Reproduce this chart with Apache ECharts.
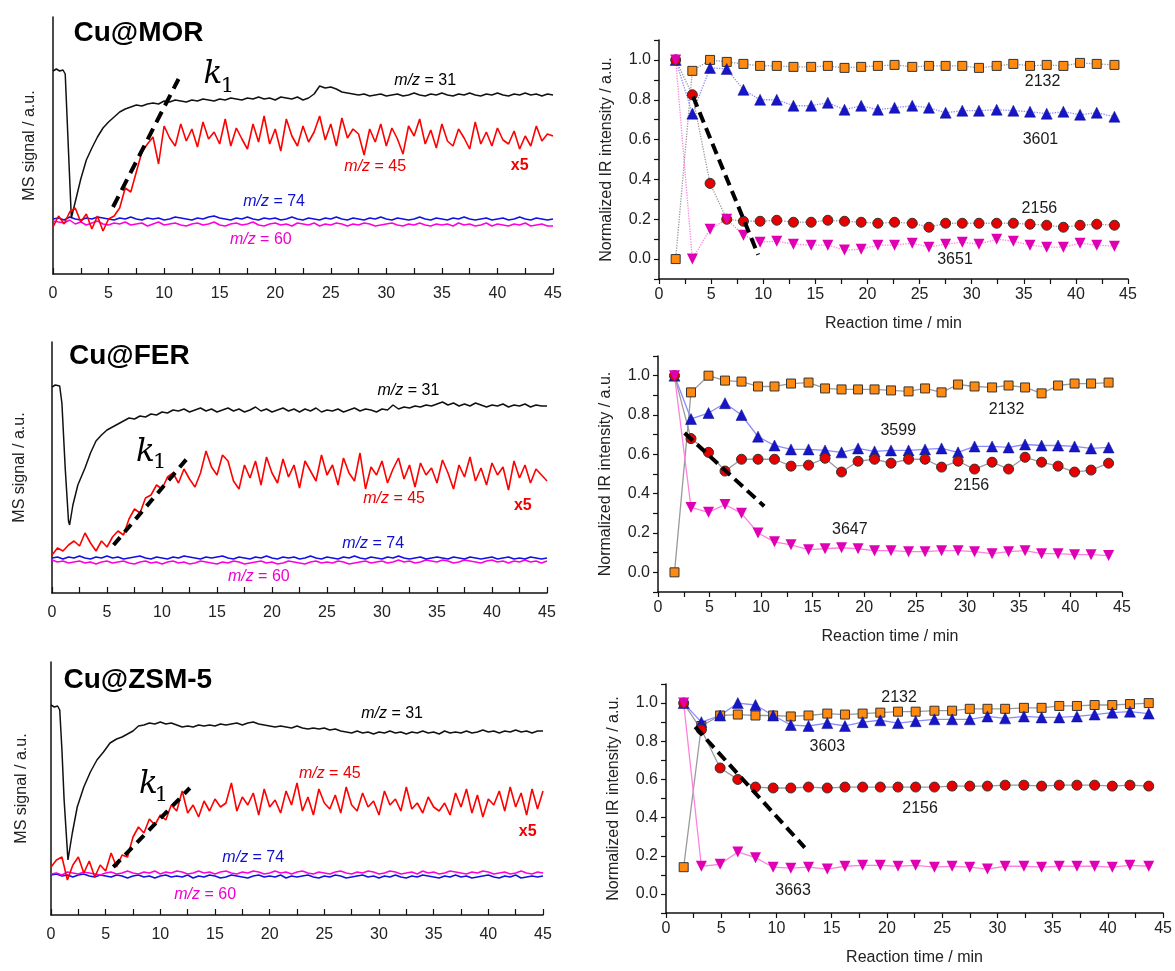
<!DOCTYPE html>
<html>
<head>
<meta charset="utf-8">
<script src="https://cdn.jsdelivr.net/npm/echarts@6.0.0/dist/echarts.min.js"></script>
<style>
html, body { margin: 0; padding: 0; background: #fff; }
#main { width: 1175px; height: 971px; }
</style>
</head>
<body>
<div id="main"></div>
<script>
// ---- MS 信号 (左列)，纵坐标单位：离 x 轴的像素高度 ----
var msTime = [0,0.5,1,1.5,2,2.5,3,3.5,4,4.5,
  5,5.5,6,6.5,7,7.5,8,8.5,9,9.5,
  10,10.5,11,11.5,12,12.5,13,13.5,14,14.5,
  15,15.5,16,16.5,17,17.5,18,18.5,19,19.5,
  20,20.5,21,21.5,22,22.5,23,23.5,24,24.5,
  25,25.5,26,26.5,27,27.5,28,28.5,29,29.5,
  30,30.5,31,31.5,32,32.5,33,33.5,34,34.5,
  35,35.5,36,36.5,37,37.5,38,38.5,39,39.5,
  40,40.5,41,41.5,42,42.5,43,43.5,44,44.5,
  45];

// Cu@MOR
var mor31 = [[0,203],[0.3,205],[0.6,203],[0.9,204],[1.1,200],[1.65,56],[2,72],[2.5,95],[3,114],[3.5,126],
  [4,137],[4.5,146],[5,152],[5.5,157],[6,162],[6.5,165],[7,167],[7.5,169],[8,168],[8.5,170],[9,171],[9.5,170],
  [10,173],[10.5,172],[11,174],[11.5,173],[12,172],[12.5,174],[13,173],[13.5,175],[14,174],[14.5,173],
  [15,175],[15.5,174],[16,176],[16.5,175],[17,174],[17.5,176],[18,175],[18.5,177],[19,175],[19.5,176],
  [20,174],[20.5,177],[21,176],[21.5,175],[22,177],[22.5,174],[23,176],[23.5,180],[24,188],[24.5,186],
  [25,187],[25.5,185],[26,182],[26.5,181],[27,180],[27.5,179],[28,180],[28.5,178],[29,179],[29.5,180],
  [30,178],[30.5,179],[31,180],[31.5,178],[32,179],[32.5,181],[33,179],[33.5,178],[34,180],[34.5,179],
  [35,181],[35.5,179],[36,178],[36.5,180],[37,179],[37.5,181],[38,179],[38.5,178],[39,180],[39.5,179],
  [40,181],[40.5,179],[41,178],[41.5,180],[42,179],[42.5,181],[43,179],[43.5,180],[44,178],[44.5,180],[45,179]];
var mor45 = [47,58,50,62,66,52,60,45,58,43,
  55,58,66,86,82,102,122,130,137,110,
  148,136,128,150,133,145,127,152,135,142,
  130,155,128,146,135,125,150,132,158,130,
  145,123,155,138,128,148,132,142,158,134,
  150,128,156,136,145,140,119,145,132,150,
  128,146,135,120,148,138,155,130,144,126,
  150,133,128,145,136,125,152,130,142,128,
  146,134,130,143,125,138,128,148,133,140,
  138];
var mor74 = [55,56,54,57,55,54,56,55,57,56,
  55,54,56,55,57,55,54,56,55,56,
  54,55,57,56,55,54,56,55,57,58,
  56,55,54,56,55,57,55,54,56,55,
  56,54,55,57,55,54,56,55,54,56,
  55,57,55,54,56,55,54,56,55,57,
  55,54,56,55,54,55,57,55,54,56,
  55,54,56,55,57,55,54,55,56,54,
  55,56,54,55,57,55,54,56,55,54,
  55];
var mor60 = [53,52,51,54,50,52,49,51,53,50,
  49,51,50,52,49,50,51,48,50,52,
  49,50,51,49,48,50,51,49,50,52,
  49,48,50,51,49,50,52,49,48,50,
  51,49,50,48,51,50,49,51,48,50,
  49,51,50,48,50,49,51,50,48,49,
  50,51,49,48,50,49,51,49,48,50,
  49,50,48,51,49,50,48,49,51,48,
  50,49,48,50,49,51,48,49,50,48,
  48];

// Cu@FER
var fer31 = [[0,206],[0.3,208],[0.7,207],[0.9,190],[1.2,125],[1.5,72],[1.6,68],[1.9,88],[2.35,108],[3,125],
  [3.5,140],[4,152],[4.5,158],[5,163],[5.5,166],[6,169],[6.5,172],[7,175],[7.5,174],[8,177],[8.5,176],
  [9,179],[9.5,178],[10,181],[10.5,180],[11,183],[11.5,182],[12,184],[12.5,181],[13,183],[13.5,185],
  [14,182],[14.5,184],[15,181],[15.5,183],[16,185],[16.5,182],[17,184],[17.5,181],[18,183],[18.5,186],
  [19,182],[19.5,184],[20,181],[20.5,183],[21,185],[21.5,182],[22,184],[22.5,181],[23,184],[23.5,182],
  [24,185],[24.5,181],[25,183],[25.5,182],[26,184],[26.5,181],[27,183],[27.5,185],[28,182],[28.5,184],
  [29,183],[29.5,181],[30,184],[30.5,183],[31,188],[31.5,184],[32,186],[32.5,185],[33,187],[33.5,186],
  [34,188],[34.5,187],[35,189],[35.5,191],[36,188],[36.5,190],[37,187],[37.5,189],[38,187],[38.5,190],
  [39,188],[39.5,186],[40,188],[40.5,187],[41,189],[41.5,186],[42,188],[42.5,187],[43,189],[43.5,186],
  [44,188],[44.5,187],[45,187]];
var fer45 = [38,45,42,48,52,47,60,50,42,52,
  46,56,62,58,74,84,80,95,98,108,
  104,116,120,110,124,114,106,120,142,126,
  118,138,132,112,104,128,115,132,108,136,
  120,110,134,116,128,105,132,122,112,138,
  118,128,108,135,120,112,140,104,126,118,
  132,110,124,135,114,128,106,130,118,125,
  110,133,120,104,128,116,136,112,125,108,
  130,118,126,103,132,115,128,110,124,118,
  112];
var fer74 = [35,36,34,36,35,37,35,34,36,35,
  37,35,36,34,35,36,37,35,34,36,
  35,34,36,35,37,36,35,34,36,35,
  36,37,35,34,36,35,34,36,35,37,
  35,34,36,35,36,34,35,37,35,34,
  36,35,34,36,35,37,35,34,36,35,
  34,36,35,37,35,34,35,36,34,35,
  36,35,34,36,35,34,36,35,34,35,
  36,34,35,36,34,35,34,36,35,34,
  35];
var fer60 = [33,31,32,30,31,32,30,31,29,31,
  32,30,31,32,30,29,31,32,30,31,
  29,31,32,30,31,29,30,32,31,30,
  29,31,30,32,31,29,30,31,32,30,
  31,29,30,32,31,30,29,31,32,30,
  31,30,32,31,29,30,31,32,30,31,
  32,30,31,33,31,32,30,31,33,32,
  31,33,32,30,31,33,32,31,30,32,
  33,31,32,30,32,31,33,31,32,30,
  32];

// Cu@ZSM-5
var zsm31 = [[0,210],[0.3,208],[0.6,209],[0.8,205],[1,165],[1.2,115],[1.55,55],[1.95,82],[2.4,108],[3,128],
  [3.6,143],[4.2,155],[4.8,163],[5.4,172],[6,176],[6.5,178],[7,181],[7.5,184],[8,189],[8.5,190],
  [9,192],[9.5,191],[10,193],[10.5,191],[11,192],[11.5,190],[12,188],[12.5,189],[13,188],[13.5,190],
  [14,189],[14.5,190],[15,189],[15.5,191],[16,190],[16.5,191],[17,192],[17.5,190],[18,192],[18.5,193],
  [19,191],[19.5,190],[20,189],[20.5,188],[21,189],[21.5,188],[22,187],[22.5,189],[23,187],[23.5,186],
  [24,187],[24.5,186],[25,187],[25.5,185],[26,186],[26.5,184],[27,183],[27.5,182],[28,184],[28.5,182],
  [29,183],[29.5,181],[30,183],[30.5,182],[31,184],[31.5,182],[32,183],[32.5,181],[33,183],[33.5,182],
  [34,184],[34.5,182],[35,183],[35.5,181],[36,184],[36.5,182],[37,183],[37.5,182],[38,184],[38.5,182],
  [39,183],[39.5,185],[40,183],[40.5,184],[41,182],[41.5,184],[42,183],[42.5,185],[43,183],[43.5,184],
  [44,182],[44.5,184],[45,184]];
var zsm45 = [48,55,58,35,50,58,42,54,38,50,
  44,62,48,60,58,78,88,82,96,90,
  100,95,110,104,124,102,110,98,114,104,
  116,108,112,132,104,118,110,122,100,126,
  108,115,102,124,110,132,104,118,100,126,
  112,106,120,102,128,110,104,122,108,114,
  100,124,110,116,104,128,106,112,102,118,
  108,104,112,100,122,108,126,102,120,98,
  116,110,124,104,128,108,122,100,126,106,
  124];
var zsm74 = [40,41,39,40,38,40,41,39,38,40,
  39,38,40,39,37,39,40,38,39,37,
  39,40,38,39,38,40,37,39,38,40,
  39,37,38,40,39,38,37,39,40,38,
  39,38,40,37,39,38,39,40,38,37,
  39,38,40,39,37,38,39,40,38,39,
  37,39,38,40,38,37,39,38,40,39,
  38,37,39,38,40,38,39,37,38,39,
  40,38,37,39,38,40,37,38,39,38,
  39];
var zsm60 = [41,42,40,43,42,41,43,42,41,40,
  42,43,41,42,44,42,41,43,42,44,
  41,43,42,44,43,41,42,44,42,43,
  41,43,44,42,41,43,42,44,43,41,
  42,44,42,43,41,43,44,42,41,43,
  42,41,43,44,42,41,43,42,44,43,
  41,42,44,43,41,42,43,41,44,42,
  43,41,42,44,43,42,41,43,42,44,
  43,41,42,43,41,42,44,42,41,43,
  42];

// ---- IR 归一化强度 (右列) ----
var irTime = [1.6,3.2,4.9,6.5,8.1,9.7,11.3,12.9,14.6,16.2,17.8,19.4,21.0,22.6,24.3,25.9,27.5,29.1,30.7,32.4,34.0,35.6,37.2,38.8,40.4,42.0,43.7];

var morIR2132 = [0.0,0.945,1.0,0.99,0.98,0.97,0.97,0.965,0.965,0.97,0.96,0.965,0.97,0.975,0.965,0.97,0.97,0.97,0.96,0.97,0.98,0.97,0.975,0.97,0.985,0.98,0.975];
var morIR3601 = [1.0,0.73,0.96,0.955,0.85,0.80,0.80,0.77,0.77,0.785,0.75,0.77,0.75,0.76,0.77,0.76,0.735,0.745,0.745,0.75,0.745,0.74,0.73,0.74,0.725,0.735,0.715];
var morIR2156 = [1.0,0.825,0.38,0.20,0.19,0.19,0.195,0.185,0.185,0.195,0.19,0.185,0.18,0.185,0.18,0.16,0.18,0.18,0.18,0.18,0.18,0.175,0.17,0.16,0.17,0.175,0.17];
var morIR3651 = [1.0,0.0,0.15,0.20,0.12,0.085,0.09,0.075,0.07,0.07,0.045,0.05,0.07,0.07,0.08,0.06,0.075,0.085,0.075,0.10,0.09,0.07,0.06,0.06,0.08,0.07,0.065];

var ferIR2132 = [0.0,0.915,1.0,0.975,0.97,0.945,0.945,0.96,0.965,0.935,0.93,0.93,0.93,0.925,0.92,0.935,0.915,0.955,0.945,0.94,0.95,0.94,0.91,0.95,0.96,0.96,0.965];
var ferIR3599 = [1.0,0.78,0.81,0.86,0.80,0.69,0.645,0.625,0.625,0.62,0.61,0.63,0.615,0.62,0.62,0.625,0.63,0.61,0.64,0.64,0.635,0.65,0.645,0.645,0.64,0.63,0.635];
var ferIR2156 = [1.0,0.68,0.61,0.515,0.575,0.575,0.575,0.54,0.545,0.58,0.51,0.565,0.575,0.555,0.575,0.575,0.535,0.565,0.525,0.56,0.525,0.585,0.56,0.54,0.51,0.52,0.555];
var ferIR3647 = [1.0,0.33,0.305,0.345,0.30,0.20,0.155,0.14,0.115,0.12,0.125,0.12,0.11,0.11,0.105,0.105,0.11,0.11,0.105,0.095,0.105,0.11,0.095,0.095,0.09,0.09,0.085];

var zsmIR2132 = [0.14,0.88,0.935,0.94,0.935,0.935,0.93,0.935,0.945,0.94,0.945,0.95,0.955,0.955,0.96,0.96,0.97,0.97,0.97,0.975,0.975,0.985,0.985,0.99,0.99,0.995,1.0];
var zsmIR3603 = [1.0,0.90,0.935,1.0,0.99,0.935,0.885,0.88,0.895,0.88,0.90,0.91,0.895,0.905,0.915,0.915,0.915,0.93,0.92,0.93,0.925,0.925,0.93,0.94,0.95,0.955,0.945];
var zsmIR2156 = [1.0,0.86,0.66,0.60,0.56,0.555,0.555,0.56,0.555,0.56,0.56,0.56,0.56,0.56,0.56,0.565,0.565,0.565,0.57,0.57,0.565,0.57,0.57,0.57,0.565,0.57,0.565];
var zsmIR3663 = [1.0,0.145,0.155,0.22,0.19,0.14,0.135,0.14,0.13,0.145,0.15,0.15,0.145,0.15,0.14,0.145,0.14,0.13,0.145,0.145,0.14,0.145,0.145,0.145,0.14,0.15,0.145];

// k1 虚线 (起点, 终点)
var morK1 = [[5.4,67],[11.3,195]];
var ferK1 = [[5.6,48],[12.4,136]];
var zsmK1 = [[5.7,48],[12.7,127]];
var morIRk = [[3.27,0.816],[9.51,0.022]];
var ferIRk = [[2.58,0.708],[10.3,0.336]];
var zsmIRk = [[2.64,0.875],[12.56,0.243]];

var FONT = '"Liberation Sans", Arial, sans-serif';
var SERIF = '"DejaVu Serif", serif';
var AX = '#111';

function zip(t, v) { return t.map(function (x, i) { return [x, v[i]]; }); }

function fmt5(v) { return Math.round(v * 2) % 10 === 0 ? String(Math.round(v)) : ''; }

function msX(gi) {
  return {
    gridIndex: gi, type: 'value', min: 0, max: 45, interval: 2.5,
    axisLine: { onZero: false, lineStyle: { color: AX, width: 1.5 } },
    axisTick: { inside: true, length: 6, lineStyle: { color: AX, width: 1.2 } },
    axisLabel: { margin: 12, fontSize: 16, color: '#222', fontFamily: FONT, formatter: fmt5 },
    splitLine: { show: false }
  };
}
function msY(gi, h, gap) {
  return {
    gridIndex: gi, type: 'value', min: 0, max: h,
    axisLine: { show: true, onZero: false, lineStyle: { color: AX, width: 1.5 } },
    axisTick: { show: false }, axisLabel: { show: false }, splitLine: { show: false },
    name: 'MS signal / a.u.', nameLocation: 'middle', nameGap: gap,
    nameTextStyle: { fontSize: 16, color: '#222', fontFamily: FONT }
  };
}
function irX(gi) {
  return {
    gridIndex: gi, type: 'value', min: 0, max: 45, interval: 2.5,
    axisLine: { onZero: false, lineStyle: { color: AX, width: 1.5 } },
    axisTick: { length: 5, lineStyle: { color: AX, width: 1.2 } },
    axisLabel: { margin: 8, fontSize: 16, color: '#222', fontFamily: FONT, formatter: fmt5 },
    splitLine: { show: false },
    name: 'Reaction time / min', nameLocation: 'middle', nameGap: 37,
    nameTextStyle: { fontSize: 16, color: '#222', fontFamily: FONT }
  };
}
function irY(gi) {
  return {
    gridIndex: gi, type: 'value', min: -0.1, max: 1.1, interval: 0.1,
    axisLine: { show: true, onZero: false, lineStyle: { color: AX, width: 1.5 } },
    axisTick: { length: 5, lineStyle: { color: AX, width: 1.2 } },
    axisLabel: {
      margin: 8, fontSize: 16, color: '#222', fontFamily: FONT,
      formatter: function (v) {
        var k = Math.round(v * 10);
        return (k >= 0 && k <= 10 && k % 2 === 0) ? (k / 10).toFixed(1) : '';
      }
    },
    splitLine: { show: false },
    name: 'Normalized IR intensity / a.u.', nameLocation: 'middle', nameGap: 44,
    nameTextStyle: { fontSize: 16, color: '#222', fontFamily: FONT }
  };
}

function trace(gi, data, color, w) {
  return {
    type: 'line', xAxisIndex: gi, yAxisIndex: gi, data: data,
    symbol: 'none', lineStyle: { color: color, width: w }, silent: true
  };
}
function dash(gi, data, pattern) {
  return {
    type: 'line', xAxisIndex: gi, yAxisIndex: gi, data: data, z: 5,
    symbol: 'none', lineStyle: { color: '#000', width: 4, type: pattern }, silent: true
  };
}
function marks(gi, vals, kind, lineType) {
  var s = {
    type: 'line', xAxisIndex: gi, yAxisIndex: gi, data: zip(irTime, vals), silent: true,
    showAllSymbol: true
  };
  if (kind === 'sq') {
    s.symbol = 'rect'; s.symbolSize = 9;
    s.itemStyle = { color: '#ff8a0f', borderColor: '#333', borderWidth: 1 };
    s.lineStyle = { color: '#9a9a9a', width: 1.3, type: lineType };
  } else if (kind === 'up') {
    s.symbol = 'triangle'; s.symbolSize = 11;
    s.itemStyle = { color: '#1616c8', borderColor: '#0c0c80', borderWidth: 0.5 };
    s.lineStyle = { color: '#8a8aff', width: 1.3, type: lineType };
  } else if (kind === 'ci') {
    s.symbol = 'circle'; s.symbolSize = 10;
    s.itemStyle = { color: '#e60000', borderColor: '#333', borderWidth: 1 };
    s.lineStyle = { color: '#9a9a9a', width: 1.3, type: lineType };
  } else {
    s.symbol = 'triangle'; s.symbolSize = 11; s.symbolRotate = 180;
    s.itemStyle = { color: '#e000b4' };
    s.lineStyle = { color: '#ff80e0', width: 1.3, type: lineType };
  }
  return s;
}

// 文字标注，全部用 rich 文本
function rt(t, v, parts, pos) {
  var fmt = '', rich = {};
  parts.forEach(function (p, i) {
    fmt += '{s' + i + '|' + p[0] + '}';
    rich['s' + i] = Object.assign({ fontFamily: FONT, fontSize: 16, color: '#111' }, p[1] || {});
  });
  return {
    value: [t, v],
    label: { show: true, position: pos || 'inside', distance: 0, formatter: fmt, rich: rich }
  };
}
function num(t, v, text) { return rt(t, v, [[text, { color: '#1a1a1a' }]]); }
function mz(t, v, n, color) {
  return rt(t, v, [['m/z', { fontStyle: 'italic', color: color }], [' = ' + n, { color: color }]]);
}
function notes(gi, items) {
  // scatter 默认 opacity 0.8，会让文字变灰，这里设为 1
  return {
    type: 'scatter', xAxisIndex: gi, yAxisIndex: gi, data: items, z: 10,
    symbolSize: 1, itemStyle: { color: 'rgba(0,0,0,0)', opacity: 1 }, silent: true
  };
}
function msNotes(gi, title, tp, kp, onep, p31, p45, px5, p74, p60) {
  return notes(gi, [
    rt(tp[0], tp[1], [[title, { fontSize: 28, fontWeight: 'bold', color: '#000' }]], 'right'),
    rt(kp[0], kp[1], [['k', { fontFamily: SERIF, fontStyle: 'italic', fontSize: 31, color: '#000' }]]),
    rt(onep[0], onep[1], [['1', { fontFamily: SERIF, fontSize: 21, color: '#000' }]]),
    mz(p31[0], p31[1], '31', '#000'),
    mz(p45[0], p45[1], '45', '#f00000'),
    rt(px5[0], px5[1], [['x5', { fontWeight: 'bold', color: '#f00000' }]]),
    mz(p74[0], p74[1], '74', '#1010d0'),
    mz(p60[0], p60[1], '60', '#f000d0')
  ]);
}

var series = [
  // Cu@MOR MS
  trace(0, zip(msTime, mor60), '#ff00dd', 1.5),
  trace(0, zip(msTime, mor74), '#1010e0', 1.5),
  trace(0, mor31, '#111', 1.5),
  trace(0, zip(msTime, mor45), '#ff0000', 1.6),
  dash(0, morK1, [12, 7]),
  msNotes(0, 'Cu@MOR', [1.8, 241], [14.4, 199], [15.7, 187], [33.5, 193], [29.0, 107], [42.0, 108], [19.9, 72], [18.7, 34]),
  // Cu@MOR IR
  marks(1, morIR2132, 'sq', 'dotted'),
  marks(1, morIR3601, 'up', 'dotted'),
  marks(1, morIR2156, 'ci', 'dotted'),
  marks(1, morIR3651, 'dn', 'dotted'),
  dash(1, morIRk, [11, 6]),
  notes(1, [num(36.8, 0.891, '2132'), num(36.6, 0.602, '3601'), num(36.5, 0.256, '2156'), num(28.4, -0.003, '3651')]),
  // Cu@FER MS
  trace(2, zip(msTime, fer60), '#ff00dd', 1.5),
  trace(2, zip(msTime, fer74), '#1010e0', 1.5),
  trace(2, fer31, '#111', 1.5),
  trace(2, zip(msTime, fer45), '#ff0000', 1.6),
  dash(2, ferK1, [10, 7]),
  msNotes(2, 'Cu@FER', [1.5, 237], [8.5, 140], [9.8, 130], [32.4, 202], [31.1, 94], [42.8, 87], [29.2, 49], [18.8, 16]),
  // Cu@FER IR
  marks(3, ferIR2132, 'sq', 'solid'),
  marks(3, ferIR3599, 'up', 'solid'),
  marks(3, ferIR2156, 'ci', 'solid'),
  marks(3, ferIR3647, 'dn', 'solid'),
  dash(3, ferIRk, [11, 6]),
  notes(3, [num(33.8, 0.83, '2132'), num(23.3, 0.722, '3599'), num(30.4, 0.442, '2156'), num(18.6, 0.217, '3647')]),
  // Cu@ZSM-5 MS
  trace(4, zip(msTime, zsm74), '#1010e0', 1.5),
  trace(4, zip(msTime, zsm60), '#ff00dd', 1.5),
  trace(4, zsm31, '#111', 1.5),
  trace(4, zip(msTime, zsm45), '#ff0000', 1.6),
  dash(4, zsmK1, [10, 7]),
  msNotes(4, 'Cu@ZSM-5', [1.1, 235], [8.9, 130], [10.1, 119], [31.2, 201], [25.5, 141], [43.6, 83], [18.5, 57], [14.1, 20]),
  // Cu@ZSM-5 IR
  marks(5, zsmIR2132, 'sq', 'solid'),
  marks(5, zsmIR3603, 'up', 'solid'),
  marks(5, zsmIR2156, 'ci', 'solid'),
  marks(5, zsmIR3663, 'dn', 'solid'),
  dash(5, zsmIRk, [11, 6]),
  notes(5, [num(21.1, 1.031, '2132'), num(14.6, 0.774, '3603'), num(23.0, 0.445, '2156'), num(11.5, 0.017, '3663')])
];

var chart = echarts.init(document.getElementById('main'));
chart.setOption({
  animation: false,
  backgroundColor: '#fff',
  grid: [
    { left: 53, top: 17, width: 500, height: 257 },
    { left: 659, top: 40, width: 469, height: 239 },
    { left: 52, top: 342, width: 495, height: 251 },
    { left: 658, top: 356, width: 464, height: 236 },
    { left: 51, top: 662, width: 492, height: 253 },
    { left: 666, top: 684, width: 498, height: 229 }
  ],
  xAxis: [msX(0), irX(1), msX(2), irX(3), msX(4), irX(5)],
  yAxis: [msY(0, 257, 15), irY(1), msY(2, 251, 24), irY(3), msY(4, 253, 21), irY(5)],
  series: series
});
</script>
</body>
</html>
